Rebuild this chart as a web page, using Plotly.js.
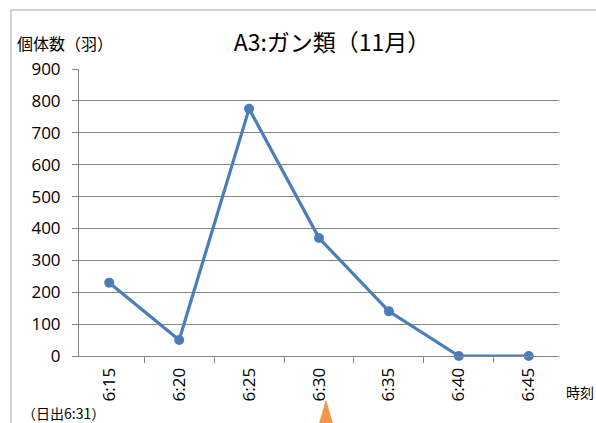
<!DOCTYPE html>
<html>
<head>
<meta charset="utf-8">
<script src="https://cdn.plot.ly/plotly-3.0.1.min.js"></script>
<style>html,body{margin:0;padding:0;background:#fff;}#chart{width:596px;height:423px;}</style>
</head>
<body>
<div id="chart"></div>
<script>
const categories = ["6:15", "6:20", "6:25", "6:30", "6:35", "6:40", "6:45"];
const counts = [230, 50, 775, 370, 140, 0, 0];
const yTicks = [0, 100, 200, 300, 400, 500, 600, 700, 800, 900];
const sunriseIndex = 3.1;

const jp = '"Noto Sans CJK JP", "Noto Sans", sans-serif';
const lat = '"Open Sans", "Liberation Sans", sans-serif';

const trace = {
  x: categories,
  y: counts,
  type: 'scatter',
  mode: 'lines+markers',
  line: {color: '#4a7ebb', width: 3.2},
  marker: {color: '#4a7ebb', size: 10},
  cliponaxis: false,
  hoverinfo: 'skip'
};

const L = 79, R = 559, T = 69, B = 356;
const pw = R - L, ph = B - T;
const px = v => (v - L) / pw;
const py = v => (B - v) / ph;

const layout = {
  width: 596, height: 423,
  margin: {l: L, r: 596 - R, t: T, b: 423 - B},
  paper_bgcolor: '#fff', plot_bgcolor: '#fff',
  showlegend: false,
  title: {
    text: 'A3:ガン類（11月）',
    font: {family: jp, size: 23, color: '#000'},
    xref: 'container', yref: 'container',
    x: 332 / 596, xanchor: 'center',
    y: 1 - 43 / 423, yanchor: 'middle'
  },
  xaxis: {
    type: 'category',
    tickson: 'boundaries',
    ticks: 'outside', ticklen: 6, tickcolor: '#868686', tickwidth: 1,
    showline: true, linecolor: '#868686', linewidth: 1,
    showgrid: false, zeroline: false,
    tickangle: -90,
    ticklabelstandoff: 4,
    tickfont: {family: lat, size: 17, color: '#000'},
    fixedrange: true
  },
  yaxis: {
    range: [0, 900],
    tickvals: yTicks,
    ticks: 'outside', ticklen: 6, tickcolor: '#868686', tickwidth: 1,
    showline: true, linecolor: '#868686', linewidth: 1,
    showgrid: true, gridcolor: '#868686', gridwidth: 1,
    zeroline: false,
    ticklabelstandoff: 8,
    tickfont: {family: lat, size: 17, color: '#000'},
    fixedrange: true
  },
  annotations: [
    {text: '個体数（羽）', xref: 'paper', yref: 'paper', x: px(15), y: py(43),
     xanchor: 'left', yanchor: 'middle', showarrow: false,
     font: {family: jp, size: 16, color: '#000'}},
    {text: '時刻', xref: 'paper', yref: 'paper', x: px(564), y: py(392),
     xanchor: 'left', yanchor: 'middle', showarrow: false,
     font: {family: jp, size: 14, color: '#000'}},
    {text: '（日出6:31）', xref: 'paper', yref: 'paper', x: px(20), y: py(413),
     xanchor: 'left', yanchor: 'middle', showarrow: false,
     font: {family: jp, size: 14, color: '#000'}}
  ],
  shapes: [
    {type: 'rect', xref: 'paper', yref: 'paper',
     x0: px(11), x1: px(700), y0: py(500), y1: py(10),
     line: {color: '#a6a6a6', width: 1}, fillcolor: 'rgba(0,0,0,0)', layer: 'below'},
    {type: 'path', xref: 'x', yref: 'paper',
     path: 'M ' + (sunriseIndex - 0.09) + ',' + py(423) +
           ' L ' + (sunriseIndex + 0.09) + ',' + py(423) +
           ' L ' + sunriseIndex + ',' + py(401) + ' Z',
     fillcolor: '#f79646', line: {color: '#f79646', width: 1}}
  ]
};

Plotly.newPlot('chart', [trace], layout, {displayModeBar: false, staticPlot: true});
</script>
</body>
</html>
